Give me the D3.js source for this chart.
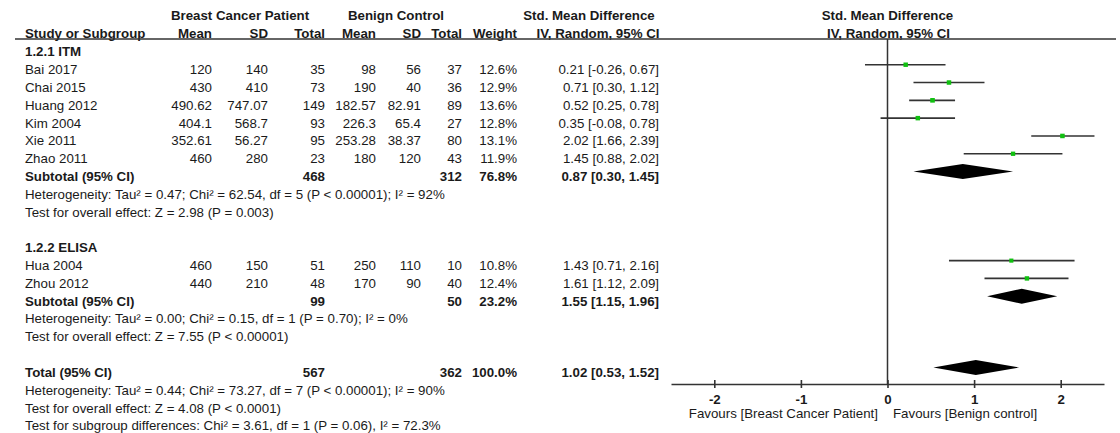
<!DOCTYPE html>
<html>
<head>
<meta charset="utf-8">
<script src="https://cdn.jsdelivr.net/npm/d3@7"></script>
<style>
  html, body { margin: 0; padding: 0; background: #fff; }
  svg { display: block; }
  text { font-family: "Liberation Sans", Arial, sans-serif; font-size: 13.3px; fill: #1a1a1a; }
  .b { font-weight: bold; }
</style>
</head>
<body>
<svg id="chart" width="1120" height="433"></svg>
<script>
// Study-level data
const studyNames = ["Bai 2017", "Chai 2015", "Huang 2012", "Kim 2004", "Xie 2011", "Zhao 2011", "Hua 2004", "Zhou 2012"];
const studyGroup = [0, 0, 0, 0, 0, 0, 1, 1];
const bcMean  = [120, 430, 490.62, 404.1, 352.61, 460, 460, 440];
const bcSD    = [140, 410, 747.07, 568.7, 56.27, 280, 150, 210];
const bcTotal = [35, 73, 149, 93, 95, 23, 51, 48];
const bnMean  = [98, 190, 182.57, 226.3, 253.28, 180, 250, 170];
const bnSD    = [56, 40, 82.91, 65.4, 38.37, 120, 110, 90];
const bnTotal = [37, 36, 89, 27, 80, 43, 10, 40];
const weight  = [12.6, 12.9, 13.6, 12.8, 13.1, 11.9, 10.8, 12.4];
const smd     = [0.21, 0.71, 0.52, 0.35, 2.02, 1.45, 1.43, 1.61];
const ciLow   = [-0.26, 0.30, 0.25, -0.08, 1.66, 0.88, 0.71, 1.12];
const ciHigh  = [0.67, 1.12, 0.78, 0.78, 2.39, 2.02, 2.16, 2.09];

// Subgroup summaries
const groupLabels = ["1.2.1 ITM", "1.2.2 ELISA"];
const subBcTotal = [468, 99];
const subBnTotal = [312, 50];
const subWeight  = [76.8, 23.2];
const subSmd     = [0.87, 1.55];
const subLow     = [0.30, 1.15];
const subHigh    = [1.45, 1.96];
const subHet = [
  "Heterogeneity: Tau² = 0.47; Chi² = 62.54, df = 5 (P < 0.00001); I² = 92%",
  "Heterogeneity: Tau² = 0.00; Chi² = 0.15, df = 1 (P = 0.70); I² = 0%"
];
const subTest = [
  "Test for overall effect: Z = 2.98 (P = 0.003)",
  "Test for overall effect: Z = 7.55 (P < 0.00001)"
];

// Overall summary
const totalBc = 567, totalBn = 362, totalWeight = 100.0;
const totalSmd = 1.02, totalLow = 0.53, totalHigh = 1.52;
const totalNotes = [
  "Heterogeneity: Tau² = 0.44; Chi² = 73.27, df = 7 (P < 0.00001); I² = 90%",
  "Test for overall effect: Z = 4.08 (P < 0.0001)",
  "Test for subgroup differences: Chi² = 3.61, df = 1 (P = 0.06), I² = 72.3%"
];

// Axis
const tickValues = [-2, -1, 0, 1, 2];
const favoursLeft = "Favours [Breast Cancer Patient]";
const favoursRight = "Favours [Benign control]";

const svg = d3.select("#chart");
const f2 = v => v.toFixed(2);
const ciText = (m, l, h) => `${f2(m)} [${f2(l)}, ${f2(h)}]`;
const pct = w => w.toFixed(1) + "%";

// Column anchors (right edges for numeric columns)
const col = { name: 25, m1: 212, s1: 268, t1: 325, m2: 376, s2: 421, t2: 462, w: 517, ci: 659 };

// Row grid: text centres, one row per line of the table
const y = d3.scaleLinear().domain([0, 21]).range([51.7, 425.7]);
const markShift = -4.8;

const x = d3.scaleLinear().domain([-2.5, 2.5]).range([671, 1104]);
const axisY = 384;

// Build table rows
const rows = [];
let r = 0;
groupLabels.forEach((g, gi) => {
  rows.push({ type: "group", i: r++, label: g });
  studyNames.forEach((n, si) => {
    if (studyGroup[si] === gi) rows.push({ type: "study", i: r++, s: si });
  });
  rows.push({ type: "subtotal", i: r++, g: gi });
  rows.push({ type: "note", i: r++, label: subHet[gi] });
  rows.push({ type: "note", i: r++, label: subTest[gi] });
  r++; // spacer
});
rows.push({ type: "total", i: r++ });
totalNotes.forEach(t => rows.push({ type: "note", i: r++, label: t }));

// Header texts
const hdr = svg.append("g");
function txt(g, xx, yy, s, anchor, bold) {
  return g.append("text").attr("x", xx).attr("y", yy).attr("dy", "0.35em")
    .attr("text-anchor", anchor || "start").attr("class", bold ? "b" : null).text(s);
}
txt(hdr, 240, 15, "Breast Cancer Patient", "middle", true);
txt(hdr, 396, 15, "Benign Control", "middle", true);
txt(hdr, 589, 15, "Std. Mean Difference", "middle", true);
txt(hdr, x(0), 15, "Std. Mean Difference", "middle", true);
txt(hdr, col.name, 33.5, "Study or Subgroup", "start", true);
txt(hdr, col.m1, 33.5, "Mean", "end", true);
txt(hdr, col.s1, 33.5, "SD", "end", true);
txt(hdr, col.t1, 33.5, "Total", "end", true);
txt(hdr, col.m2, 33.5, "Mean", "end", true);
txt(hdr, col.s2, 33.5, "SD", "end", true);
txt(hdr, col.t2, 33.5, "Total", "end", true);
txt(hdr, col.w, 33.5, "Weight", "end", true);
txt(hdr, 598, 33.5, "IV, Random, 95% CI", "middle", true);
txt(hdr, x(0) + 1, 33.5, "IV, Random, 95% CI", "middle", true);

// Header rule
svg.append("line").attr("x1", 15).attr("x2", 1116).attr("y1", 39).attr("y2", 39)
  .attr("stroke", "#333").attr("stroke-width", 1.6);

// Table body
const body = svg.append("g");
rows.forEach(row => {
  const yy = y(row.i);
  if (row.type === "group") {
    txt(body, col.name, yy, row.label, "start", true);
  } else if (row.type === "note") {
    txt(body, col.name, yy, row.label, "start", false);
  } else if (row.type === "study") {
    const s = row.s;
    txt(body, col.name, yy, studyNames[s]);
    txt(body, col.m1, yy, bcMean[s], "end");
    txt(body, col.s1, yy, bcSD[s], "end");
    txt(body, col.t1, yy, bcTotal[s], "end");
    txt(body, col.m2, yy, bnMean[s], "end");
    txt(body, col.s2, yy, bnSD[s], "end");
    txt(body, col.t2, yy, bnTotal[s], "end");
    txt(body, col.w, yy, pct(weight[s]), "end");
    txt(body, col.ci, yy, ciText(smd[s], ciLow[s], ciHigh[s]), "end");
  } else if (row.type === "subtotal") {
    const g = row.g;
    txt(body, col.name, yy, "Subtotal (95% CI)", "start", true);
    txt(body, col.t1, yy, subBcTotal[g], "end", true);
    txt(body, col.t2, yy, subBnTotal[g], "end", true);
    txt(body, col.w, yy, pct(subWeight[g]), "end", true);
    txt(body, col.ci, yy, ciText(subSmd[g], subLow[g], subHigh[g]), "end", true);
  } else if (row.type === "total") {
    txt(body, col.name, yy, "Total (95% CI)", "start", true);
    txt(body, col.t1, yy, totalBc, "end", true);
    txt(body, col.t2, yy, totalBn, "end", true);
    txt(body, col.w, yy, pct(totalWeight), "end", true);
    txt(body, col.ci, yy, ciText(totalSmd, totalLow, totalHigh), "end", true);
  }
});

// Forest plot
const plot = svg.append("g");

// Line of no effect
plot.append("line").attr("x1", x(0)).attr("x2", x(0)).attr("y1", 39).attr("y2", axisY)
  .attr("stroke", "#333").attr("stroke-width", 1.5);

// Study confidence intervals and weighted squares
const studyRows = rows.filter(d => d.type === "study");
plot.selectAll("line.ci").data(studyRows).join("line")
  .attr("class", "ci")
  .attr("x1", d => x(ciLow[d.s])).attr("x2", d => x(ciHigh[d.s]))
  .attr("y1", d => y(d.i) + markShift).attr("y2", d => y(d.i) + markShift)
  .attr("stroke", "#333").attr("stroke-width", 1.6);
plot.selectAll("rect.pt").data(studyRows).join("rect")
  .attr("class", "pt")
  .attr("width", d => Math.sqrt(weight[d.s]) * 1.25)
  .attr("height", d => Math.sqrt(weight[d.s]) * 1.25)
  .attr("x", d => x(smd[d.s]) - Math.sqrt(weight[d.s]) * 0.625)
  .attr("y", d => y(d.i) + markShift - Math.sqrt(weight[d.s]) * 0.625)
  .attr("fill", "#10c010");

// Pooled diamonds
const diamonds = rows.filter(d => d.type === "subtotal" || d.type === "total").map(d => {
  if (d.type === "subtotal") return { i: d.i, m: subSmd[d.g], l: subLow[d.g], h: subHigh[d.g] };
  return { i: d.i, m: totalSmd, l: totalLow, h: totalHigh };
});
const halfH = 7.5;
plot.selectAll("path.dia").data(diamonds).join("path")
  .attr("class", "dia")
  .attr("d", d => {
    const cy = y(d.i) + markShift;
    return `M${x(d.l)},${cy}L${x(d.m)},${cy - halfH}L${x(d.h)},${cy}L${x(d.m)},${cy + halfH}Z`;
  })
  .attr("fill", "#000");

// Bottom axis with ticks crossing the line
const axis = d3.axisBottom(x).tickValues(tickValues).tickFormat(d => String(d)).tickSizeOuter(0);
const ax = svg.append("g").attr("transform", `translate(0,${axisY})`).call(axis);
ax.select(".domain").attr("stroke", "#333").attr("stroke-width", 1.6);
ax.selectAll(".tick line").attr("y1", -4).attr("y2", 4).attr("stroke", "#333").attr("stroke-width", 1.6);
ax.selectAll(".tick text").attr("y", 15).attr("dy", "0.35em")
  .style("font-family", "'Liberation Sans', Arial, sans-serif").style("font-size", "13.3px")
  .style("font-weight", "bold").attr("fill", "#1a1a1a");

txt(svg, 878, 413.3, favoursLeft, "end");
txt(svg, 893, 413.3, favoursRight, "start");
</script>
</body>
</html>
